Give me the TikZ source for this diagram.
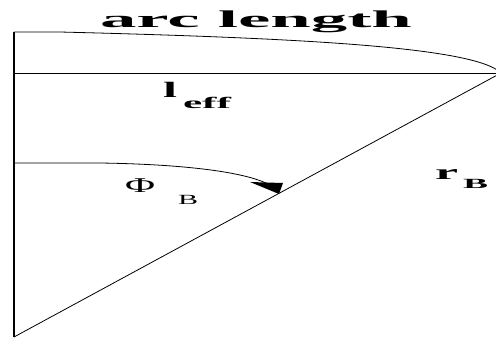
\documentclass[tikz,border=0pt]{standalone}
\usepackage{fontspec}
\setmainfont{Liberation Serif}
\begin{document}
\begin{tikzpicture}[x=1pt,y=-1pt,
  thinline/.style={line width=0.8pt},
  thickline/.style={line width=2.4pt},
  lbl/.style={inner sep=0pt, outer sep=0pt, anchor=base west}]
\useasboundingbox (0,0) rectangle (496,341);
\clip (0,0) rectangle (496,341);
\coordinate (top) at (14,32);
\coordinate (mid) at (14,73);
\coordinate (ang) at (14,163);
\coordinate (bot) at (14,337);
\coordinate (apex) at (501,73);
\coordinate (tip) at (279,194);
\draw[thickline] (top) -- (bot);
\draw[thinline] (mid) -- (apex);
\draw[thinline] (bot) -- (apex);
\draw[thinline] (top) -- (60,32) .. controls (300,38) and (475,47) .. (apex);
\draw[thinline] (ang) -- (100,163) .. controls (170,164) and (240,170) .. (268,184);
\fill (250,182) -- (283,183) -- (tip) -- cycle;
\node[lbl] (arclen) at (100,27) {\resizebox{312pt}{\height}{\fontsize{24}{24}\selectfont\bfseries arc length}};
\node[lbl] (leff) at (163,97) {\resizebox{14pt}{\height}{\fontsize{22}{22}\selectfont\bfseries l}\hspace{6pt}\raisebox{-11pt}{\resizebox{48pt}{\height}{\fontsize{16}{16}\selectfont\bfseries eff}}};
\node[lbl] (phib) at (125,192) {\resizebox{30pt}{\height}{\fontsize{21}{21}\selectfont Φ}\hspace{23pt}\raisebox{-12pt}{\resizebox{20pt}{\height}{\fontsize{14}{14}\selectfont B}}};
\node[lbl] (rb) at (435,179) {\resizebox{23pt}{\height}{\fontsize{21}{21}\selectfont\bfseries r}\hspace{5pt}\raisebox{-9pt}{\resizebox{25pt}{\height}{\fontsize{14}{14}\selectfont\bfseries B}}};
\end{tikzpicture}
\end{document}
